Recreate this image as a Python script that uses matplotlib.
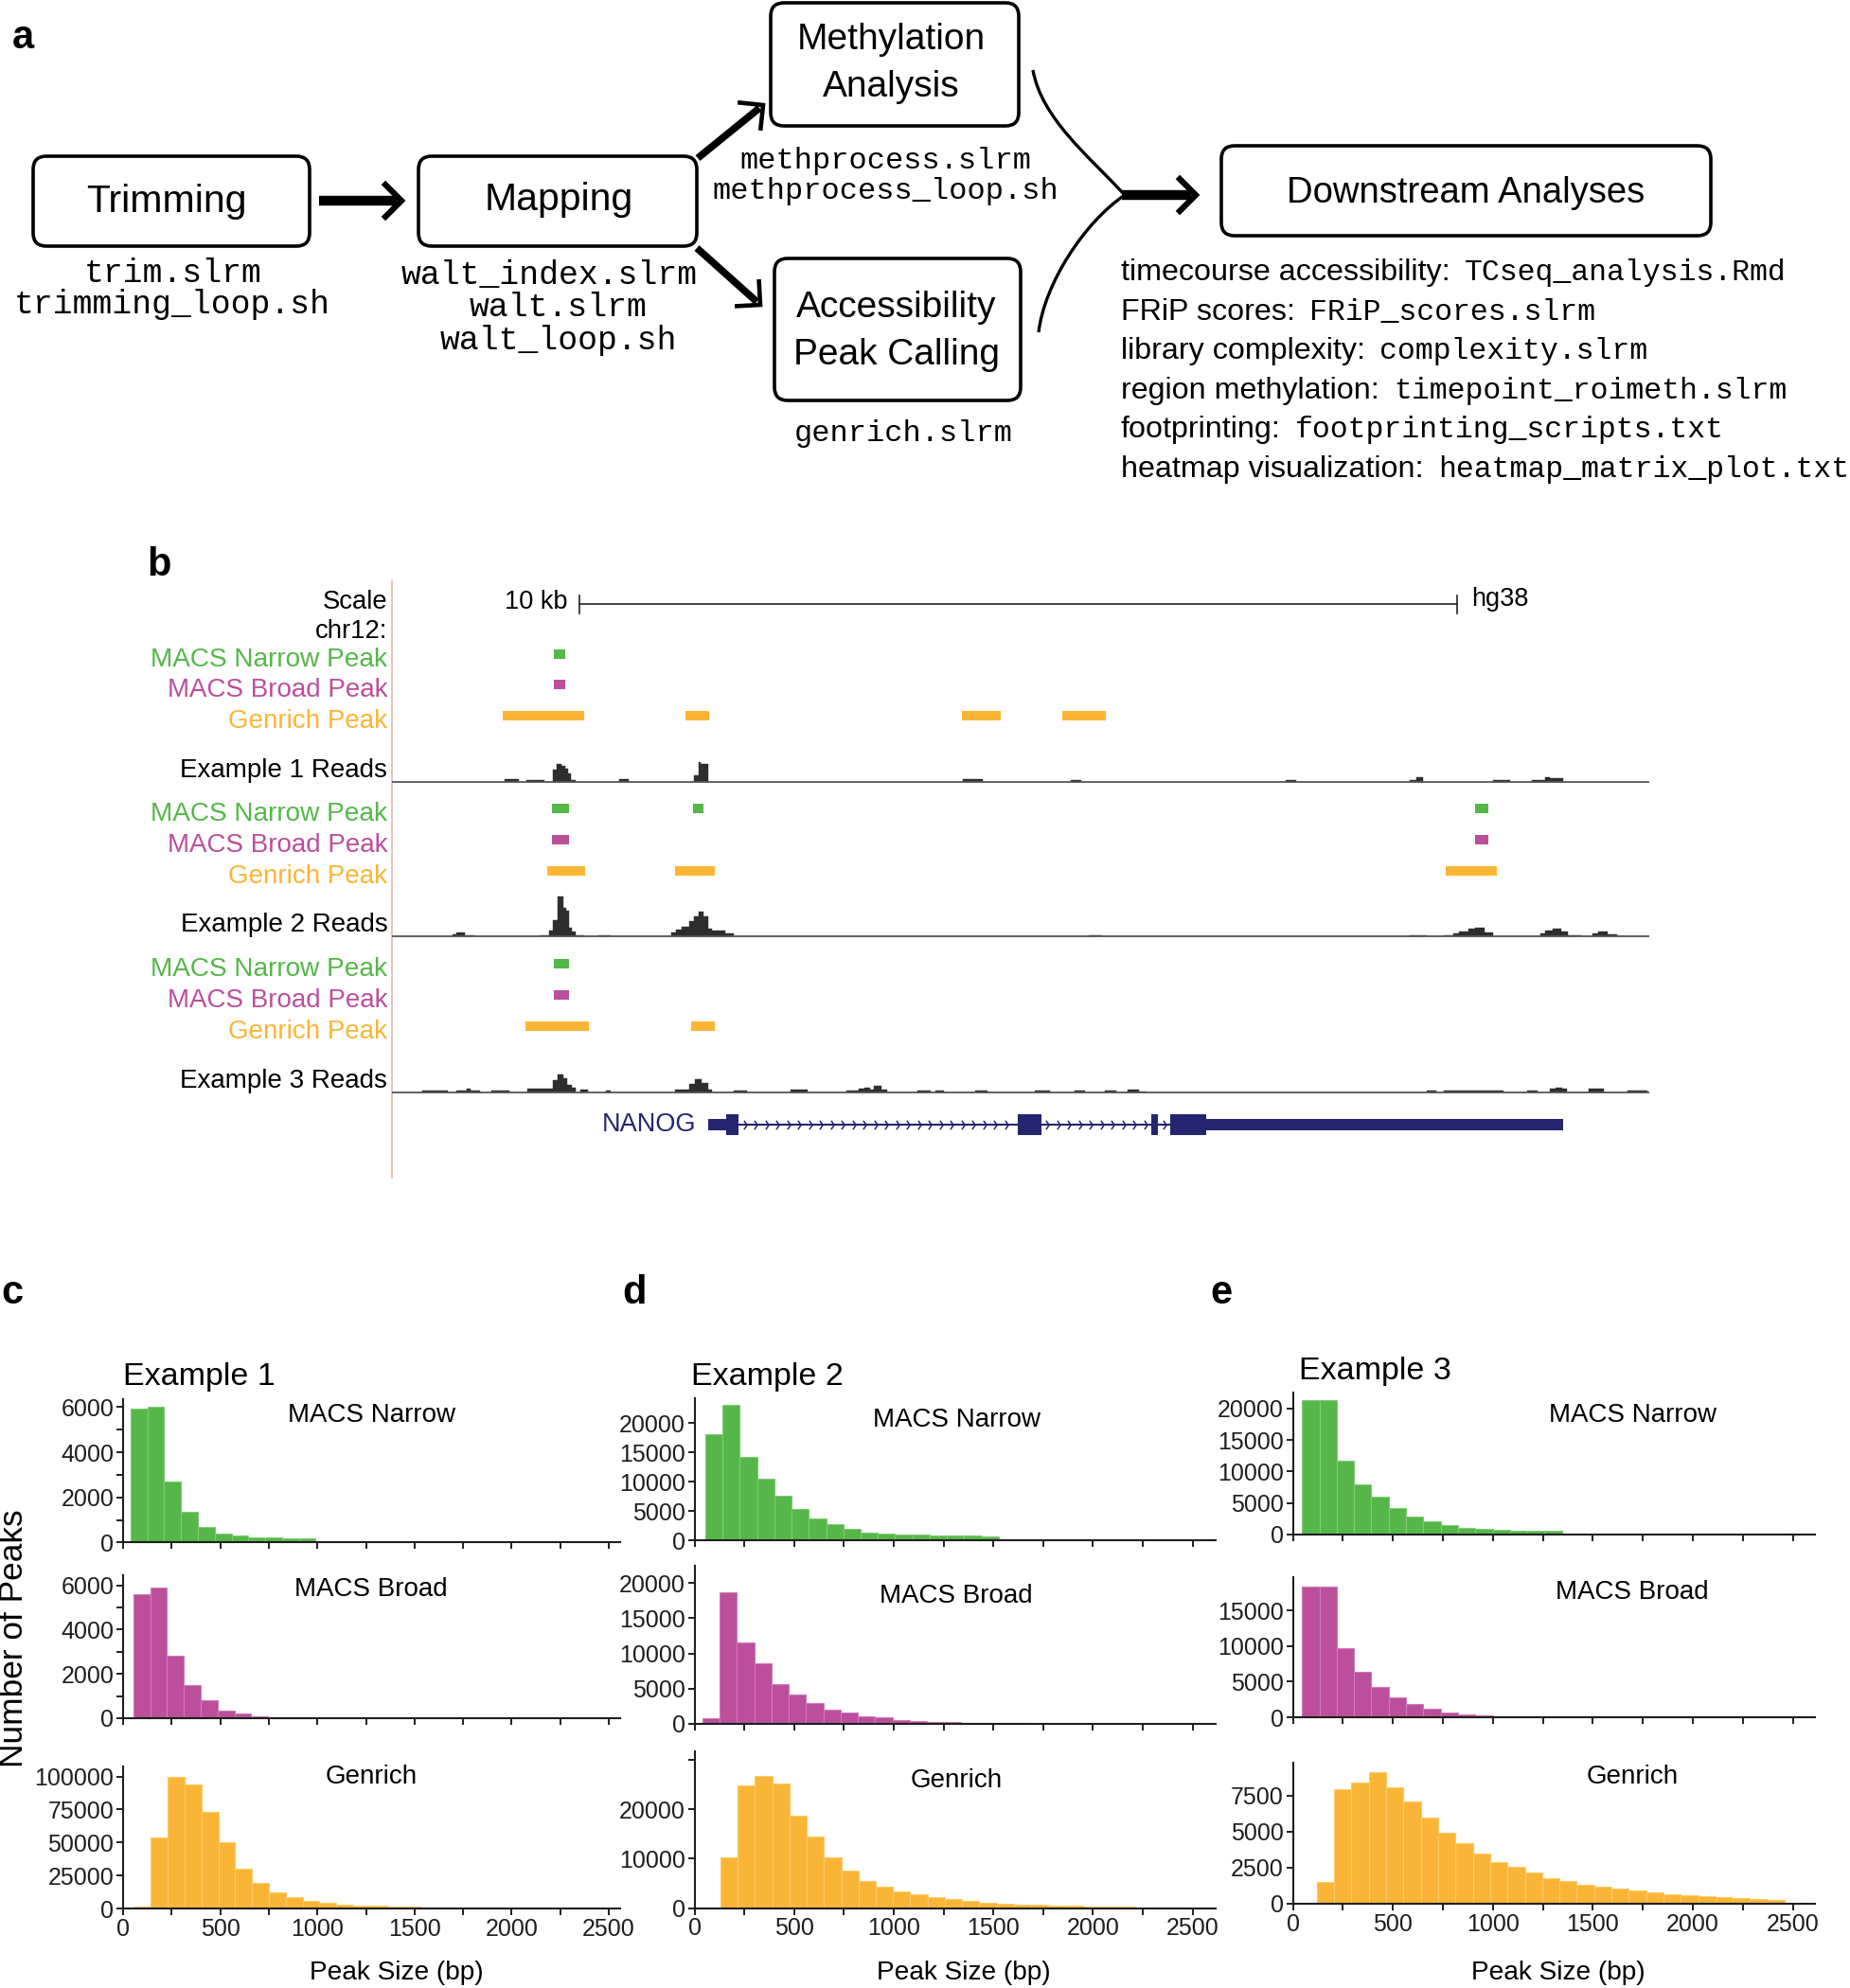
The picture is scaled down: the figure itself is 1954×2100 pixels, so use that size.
import numpy as np
import matplotlib
matplotlib.use('Agg')
import matplotlib.pyplot as plt
from matplotlib.patches import FancyBboxPatch, PathPatch
from matplotlib.path import Path

# ==== data =====================================================================

# --- panels c-e: peak size histograms (bin width ~86.7 bp, first bin start in bp)
bin_w = 2600 / 30
ex1_narrow_start = 38
ex1_narrow = [5950, 6030, 2690, 1360, 690, 390, 300, 230, 220, 200, 200]
ex1_broad_start = 53
ex1_broad = [5590, 5900, 2830, 1490, 830, 350, 200, 100, 60, 35, 25, 18, 12, 10,
             8, 6, 5, 5, 4, 4, 3, 3, 3, 3, 2, 2, 2]
ex1_genrich_start = 57
ex1_genrich = [1500, 54000, 100000, 94000, 73000, 50000, 30000, 19500, 12500, 8700,
               6000, 4300, 3200, 2500, 1900, 1500, 1200, 1000, 800, 650, 500, 400,
               320, 260, 200, 160, 130]

ex2_narrow_start = 54
ex2_narrow = [18100, 23100, 14300, 10600, 7650, 5400, 3850, 2750, 2050, 1400, 1250,
              1100, 1000, 940, 860, 860, 780]
ex2_broad_start = 40
ex2_broad = [850, 18700, 11500, 8600, 5700, 4150, 3000, 2080, 1550, 1100, 900, 600,
             460, 330, 260, 200, 150, 110, 80, 60, 45, 35, 25, 20, 15, 10, 8]
ex2_genrich_start = 130
ex2_genrich = [10300, 24800, 26700, 25300, 18700, 14400, 10200, 7600, 5500, 4300,
               3300, 2800, 2150, 1800, 1400, 1120, 930, 750, 650, 560, 470, 370,
               280, 280, 190, 190, 100]

ex3_narrow_start = 46
ex3_narrow = [21400, 21300, 11650, 7950, 5950, 4200, 2900, 2050, 1450, 1020, 870,
              730, 650, 580, 580]
ex3_broad_start = 46
ex3_broad = [18350, 18400, 9700, 6450, 4250, 2750, 1800, 1150, 700, 450, 260, 130,
             80, 60, 40, 30, 20, 15, 10, 8, 6, 5]
ex3_genrich_start = 120
ex3_genrich = [1500, 7900, 8400, 9100, 8050, 7050, 5950, 4900, 4200, 3450, 2900,
               2550, 2150, 1800, 1600, 1300, 1180, 1050, 920, 760, 670, 570, 510,
               450, 410, 350, 290]

# --- panel b: browser tracks, positions in kb from left edge of the window
ex1_narrow_pk = [(1.85, 1.97)]
ex1_broad_pk = [(1.85, 1.97)]
ex1_genrich_pk = [(1.26, 2.19), (3.34, 3.61), (6.49, 6.94), (7.64, 8.13)]
ex2_narrow_pk = [(1.82, 2.02), (3.43, 3.55), (12.34, 12.49)]
ex2_broad_pk = [(1.82, 2.02), (12.34, 12.49)]
ex2_genrich_pk = [(1.77, 2.20), (3.23, 3.68), (12.01, 12.59)]
ex3_narrow_pk = [(1.84, 2.02)]
ex3_broad_pk = [(1.84, 2.02)]
ex3_genrich_pk = [(1.52, 2.24), (3.41, 3.68)]

# read coverage: (start kb, end kb, height)
ex1_reads = [(1.28, 1.45, 3), (1.53, 1.74, 1.3), (1.83, 1.88, 13), (1.88, 1.93, 19),
             (1.93, 1.97, 17), (1.97, 2.01, 14), (2.01, 2.04, 9), (2.04, 2.09, 2),
             (2.59, 2.70, 3), (3.44, 3.50, 7), (3.50, 3.52, 21), (3.52, 3.60, 19),
             (6.50, 6.73, 3), (7.73, 7.85, 1.5), (10.18, 10.30, 1.7),
             (11.60, 11.67, 1.7), (11.67, 11.75, 4.3), (12.55, 12.74, 1.7),
             (12.99, 13.14, 1.7), (13.14, 13.19, 4.7), (13.19, 13.34, 3.3)]
ex2_reads = [(0.69, 0.73, 2.7), (0.73, 0.83, 4.7), (0.83, 0.94, 1.3),
             (1.68, 1.79, 1.3), (1.79, 1.83, 6), (1.83, 1.89, 17), (1.89, 1.95, 42),
             (1.95, 1.98, 30), (1.98, 2.02, 27), (2.02, 2.05, 9), (2.05, 2.09, 5),
             (2.09, 2.19, 1.3), (2.35, 2.49, 1.3),
             (3.18, 3.24, 4.3), (3.24, 3.30, 7.7), (3.30, 3.39, 10), (3.39, 3.44, 16),
             (3.44, 3.50, 21), (3.50, 3.55, 26), (3.55, 3.60, 21), (3.60, 3.65, 8.7),
             (3.65, 3.80, 6.7), (3.80, 3.89, 3),
             (7.94, 8.09, 1.3), (11.60, 11.79, 1.7),
             (11.98, 12.09, 1.7), (12.09, 12.16, 3.3), (12.16, 12.27, 5.7),
             (12.27, 12.34, 8.3), (12.34, 12.45, 9.3), (12.45, 12.55, 4),
             (13.09, 13.14, 3.3), (13.14, 13.23, 6.7), (13.23, 13.32, 8),
             (13.32, 13.40, 5), (13.40, 13.55, 1.3),
             (13.68, 13.74, 3.3), (13.74, 13.85, 5.3), (13.85, 13.96, 2.7)]
ex3_reads = [(0.35, 0.64, 1.3), (0.73, 0.85, 1.7), (0.85, 0.90, 4), (0.90, 1.00, 1.7),
             (1.13, 1.34, 1.3), (1.54, 1.83, 3.3), (1.83, 1.89, 13), (1.89, 1.95, 19),
             (1.95, 2.00, 15), (2.00, 2.05, 8), (2.05, 2.09, 4.7), (2.15, 2.23, 2.7),
             (2.44, 2.49, 2),
             (3.23, 3.39, 2.7), (3.39, 3.45, 8.3), (3.45, 3.53, 13.3), (3.53, 3.60, 10),
             (3.60, 3.65, 2.7), (3.89, 4.05, 1.3), (4.54, 4.74, 2.7),
             (5.18, 5.32, 1.7), (5.32, 5.38, 3.3), (5.38, 5.45, 5), (5.45, 5.49, 2.7),
             (5.49, 5.58, 6.7), (5.58, 5.64, 2.7), (5.99, 6.14, 1.7), (6.19, 6.29, 1.7),
             (6.65, 6.79, 1.7), (7.33, 7.50, 1.3), (7.78, 7.90, 1.3), (8.12, 8.25, 1.3),
             (8.38, 8.51, 2.7), (8.51, 8.60, 1), (11.79, 11.90, 1.3),
             (11.98, 12.66, 1.7), (12.93, 13.05, 1.3), (13.19, 13.26, 3.3),
             (13.26, 13.33, 4.7), (13.33, 13.39, 3.3), (13.64, 13.81, 4),
             (14.08, 14.30, 1.7)]

# NANOG gene model (kb)
nanog_utr = [(3.60, 3.81), (9.28, 13.34)]
nanog_cds = [(3.81, 3.95), (7.13, 7.40), (8.65, 8.73), (8.87, 9.28)]
nanog_span = (3.95, 8.87)
scale_start_kb, scale_len_kb = 2.14, 10

downstream = [('timecourse accessibility:', 'TCseq_analysis.Rmd'),
              ('FRiP scores:', 'FRiP_scores.slrm'),
              ('library complexity:', 'complexity.slrm'),
              ('region methylation:', 'timepoint_roimeth.slrm'),
              ('footprinting:', 'footprinting_scripts.txt'),
              ('heatmap visualization:', 'heatmap_matrix_plot.txt')]

# ==== styling ==================================================================
GREEN, PURPLE, ORANGE = '#55b748', '#bb4f9c', '#fbb536'
GREEN_E, PURPLE_E, ORANGE_E = '#80cb76', '#cf7bb8', '#fcca6a'
NAVY = '#25256f'
MONO = 'Liberation Mono'

W, H = 1954, 2100
plt.rcParams['font.family'] = ['Liberation Sans', 'DejaVu Sans']
fig = plt.figure(figsize=(W / 100, H / 100), dpi=100)

# background axes in pixel coordinates (panel a + labels)
ax = fig.add_axes([0, 0, 1, 1])
ax.set_xlim(0, W)
ax.set_ylim(H, 0)
ax.axis('off')

# ---- panel a: workflow ---------------------------------------------------------
boxes = [(35, 165, 327, 260), (442, 165, 736, 260), (814, 3, 1076, 133),
         (818, 273, 1078, 423), (1290, 154, 1807, 249)]
for x0, y0, x1, y1 in boxes:
    ax.add_patch(FancyBboxPatch((x0, y0), x1 - x0, y1 - y0,
                                boxstyle='round,pad=0,rounding_size=14',
                                lw=2.6, ec='black', fc='none'))


def arrow(x0, y0, x1, y1, lw, head=27):
    ang = np.arctan2(y1 - y0, x1 - x0)
    ax.plot([x0, x1 - 5 * np.cos(ang)], [y0, y1 - 5 * np.sin(ang)],
            color='black', lw=lw, solid_capstyle='butt')
    a1, a2 = ang + np.pi + np.radians(45), ang + np.pi - np.radians(45)
    ax.plot([x1 + head * np.cos(a1), x1, x1 + head * np.cos(a2)],
            [y1 + head * np.sin(a1), y1, y1 + head * np.sin(a2)],
            color='black', lw=lw * 0.6, solid_joinstyle='miter',
            solid_capstyle='butt')


arrow(337, 212, 424, 212, 7.5)
arrow(737, 167, 806, 111, 5.5)
arrow(736, 262, 803, 322, 5.5)
arrow(1185, 206, 1263, 206, 7.5)

for verts in ([(1091, 74), (1100, 125), (1150, 165), (1188, 206)],
              [(1097, 351), (1103, 300), (1145, 235), (1188, 206)]):
    ax.add_patch(PathPatch(Path(verts, [Path.MOVETO, Path.CURVE4, Path.CURVE4, Path.CURVE4]),
                           fc='none', ec='black', lw=2.4))

ax.text(176, 213, 'Trimming', fontsize=29.5, ha='center', va='center')
ax.text(590, 211, 'Mapping', fontsize=29.5, ha='center', va='center')
ax.text(941, 42, 'Methylation', fontsize=28, ha='center', va='center')
ax.text(941, 92, 'Analysis', fontsize=28, ha='center', va='center')
ax.text(947, 325, 'Accessibility', fontsize=28, ha='center', va='center')
ax.text(947, 375, 'Peak Calling', fontsize=28, ha='center', va='center')
ax.text(1548, 204, 'Downstream Analyses', fontsize=27.5, ha='center', va='center')

ax.text(183, 288, 'trim.slrm', family=MONO, fontsize=25, ha='center', va='center')
ax.text(182, 321, 'trimming_loop.sh', family=MONO, fontsize=25, ha='center', va='center')
ax.text(580, 290, 'walt_index.slrm', family=MONO, fontsize=25, ha='center', va='center')
ax.text(590, 325, 'walt.slrm', family=MONO, fontsize=25, ha='center', va='center')
ax.text(590, 359, 'walt_loop.sh', family=MONO, fontsize=25, ha='center', va='center')
ax.text(935, 170, 'methprocess.slrm', family=MONO, fontsize=23, ha='center', va='center')
ax.text(935, 202, 'methprocess_loop.sh', family=MONO, fontsize=23, ha='center', va='center')
ax.text(954, 458, 'genrich.slrm', family=MONO, fontsize=23, ha='center', va='center')

renderer = fig.canvas.get_renderer()
for i, (lab, fname) in enumerate(downstream):
    y = 288 + i * 41.6
    t = ax.text(1184, y, lab, fontsize=23.2, ha='left', va='center')
    x_end = t.get_window_extent(renderer).x1
    ax.text(x_end + 15, y, fname, family=MONO, fontsize=22.7, ha='left', va='center')

# panel letters
for lab, x, y in [('a', 24, 40), ('b', 168, 597), ('c', 13, 1366),
                  ('d', 670, 1366), ('e', 1290, 1366)]:
    ax.text(x, y, lab, fontsize=30, fontweight='bold', ha='center', va='center')

# ---- panel b: genome browser ----------------------------------------------------
bx0, bx1, by0, by1 = 414, 1742, 614, 1244
kb_px = 92.7
axb = fig.add_axes([bx0 / W, 1 - by1 / H, (bx1 - bx0) / W, (by1 - by0) / H])
axb.set_xlim(0, (bx1 - bx0) / kb_px)
axb.set_ylim(by1, by0)
axb.axis('off')
axb.patch.set_alpha(0)
axb.plot([0, 0], [by0, by1], color='#f4b3b3', lw=1.2, clip_on=False)

lab_x = -0.05
axb.text(lab_x, 636, 'Scale', fontsize=19.8, ha='right', va='center')
axb.text(lab_x, 667, 'chr12:', fontsize=19.8, ha='right', va='center')
axb.plot([scale_start_kb, scale_start_kb + scale_len_kb], [638, 638], color='#222', lw=1.2)
for xk in (scale_start_kb, scale_start_kb + scale_len_kb):
    axb.plot([xk, xk], [629, 648], color='#222', lw=1.2)
axb.text(scale_start_kb - 0.14, 636, '10 kb', fontsize=19.5, ha='right', va='center')
axb.text(scale_start_kb + scale_len_kb + 0.16, 633, 'hg38', fontsize=19.5, ha='left', va='center')

tracks = [
    ('Example 1 Reads', ex1_narrow_pk, ex1_broad_pk, ex1_genrich_pk, ex1_reads, (690.6, 723, 755.6, 825.7)),
    ('Example 2 Reads', ex2_narrow_pk, ex2_broad_pk, ex2_genrich_pk, ex2_reads, (854.3, 887.3, 920, 989.3)),
    ('Example 3 Reads', ex3_narrow_pk, ex3_broad_pk, ex3_genrich_pk, ex3_reads, (1018.3, 1051, 1084, 1153.7)),
]
for name, nar, brd, gen, reads, (yn, yb, yg, ybase) in tracks:
    for pks, y, col, lab, fs in ((nar, yn, GREEN, 'MACS Narrow Peak', 20.2),
                                 (brd, yb, PURPLE, 'MACS Broad Peak', 20),
                                 (gen, yg, ORANGE, 'Genrich Peak', 20)):
        axb.barh([y] * len(pks), [e - s for s, e in pks], left=[s for s, e in pks],
                 height=10, color=col, lw=0)
        axb.text(lab_x, y + 6, lab, fontsize=fs, color=col, ha='right', va='center')
    axb.text(lab_x, ybase - 12, name, fontsize=20, ha='right', va='center')
    axb.plot([0, (bx1 - bx0) / kb_px], [ybase, ybase], color='#555555', lw=1.3)
    axb.bar([s for s, e, h in reads], [-h for s, e, h in reads],
            width=[e - s for s, e, h in reads], bottom=ybase, align='edge',
            color='#2e2e2e', ec='#2e2e2e', lw=0.3)

# NANOG gene model
gy = 1188
axb.plot(nanog_span, [gy, gy], color=NAVY, lw=1.5)
axb.barh([gy] * len(nanog_utr), [e - s for s, e in nanog_utr],
         left=[s for s, e in nanog_utr], height=12.5, color=NAVY, lw=0)
axb.barh([gy] * len(nanog_cds), [e - s for s, e in nanog_cds],
         left=[s for s, e in nanog_cds], height=22, color=NAVY, lw=0)
chev = Path([(-0.35, 1), (0.35, 0), (-0.35, -1)], [Path.MOVETO, Path.LINETO, Path.LINETO])
for a, b in ((3.95, 7.13), (7.40, 8.65), (8.73, 8.87)):
    xs = np.arange(a + 0.07, b - 0.03, 0.124)
    axb.plot(xs, [gy] * len(xs), ls='none', marker=chev, ms=6.7, mfc='none',
             mec=NAVY, mew=1.1)
axb.text(3.47, gy, 'NANOG', fontsize=19.5, color=NAVY, ha='right', va='center')

# ---- panels c-e: histograms -----------------------------------------------------
columns = [
    # left px, right px, xmax, example title (x, y), x centre of texts, x-label centre
    (130, 655, 2558, ('Example 1', 130, 1455), 392, 419, [
        (1478, 1629.4, 6350, ex1_narrow_start, ex1_narrow, GREEN, GREEN_E,
         [0, 1000, 2000, 3000, 4000, 5000, 6000], ['0', '', '2000', '', '4000', '', '6000'], 'MACS Narrow', 1495),
        (1664, 1815, 6450, ex1_broad_start, ex1_broad, PURPLE, PURPLE_E,
         [0, 1000, 2000, 3000, 4000, 5000, 6000], ['0', '', '2000', '', '4000', '', '6000'], 'MACS Broad', 1679),
        (1866, 2016, 107600, ex1_genrich_start, ex1_genrich, ORANGE, ORANGE_E,
         [0, 25000, 50000, 75000, 100000], ['0', '25000', '50000', '75000', '100000'], 'Genrich', 1877)]),
    (733.5, 1284, 2616, ('Example 2', 730, 1455), 1010, 1018, [
        (1477, 1627.4, 24260, ex2_narrow_start, ex2_narrow, GREEN, GREEN_E,
         [0, 5000, 10000, 15000, 20000], ['0', '5000', '10000', '15000', '20000'], 'MACS Narrow', 1500),
        (1654, 1821, 22420, ex2_broad_start, ex2_broad, PURPLE, PURPLE_E,
         [0, 5000, 10000, 15000, 20000], ['0', '5000', '10000', '15000', '20000'], 'MACS Broad', 1686),
        (1850, 2015.5, 31740, ex2_genrich_start, ex2_genrich, ORANGE, ORANGE_E,
         [0, 10000, 20000, 30000], ['0', '10000', '20000', ''], 'Genrich', 1881)]),
    (1365.5, 1917, 2611, ('Example 3', 1372, 1448), 1724, 1646, [
        (1471, 1621, 22540, ex3_narrow_start, ex3_narrow, GREEN, GREEN_E,
         [0, 5000, 10000, 15000, 20000], ['0', '5000', '10000', '15000', '20000'], 'MACS Narrow', 1495),
        (1666, 1814, 19700, ex3_broad_start, ex3_broad, PURPLE, PURPLE_E,
         [0, 5000, 10000, 15000], ['0', '5000', '10000', '15000'], 'MACS Broad', 1682),
        (1862, 2011, 9760, ex3_genrich_start, ex3_genrich, ORANGE, ORANGE_E,
         [0, 2500, 5000, 7500], ['0', '2500', '5000', '7500'], 'Genrich', 1877)]),
]

xticks = np.arange(0, 2501, 250)
for left, right, xmax, (title, tx, ty), name_x, xlab_x, rows in columns:
    ax.text(tx, ty, title, fontsize=24.5, ha='left', va='center')
    for r, (top, bot, ymax, start, counts, col, ecol, yt, ytl, name, name_y) in enumerate(rows):
        h_ax = fig.add_axes([left / W, 1 - bot / H, (right - left) / W, (bot - top) / H])
        h_ax.patch.set_alpha(0)
        lefts = start + bin_w * np.arange(len(counts))
        h_ax.bar(lefts, counts, width=bin_w, align='edge', color=col, ec=ecol, lw=0.8)
        h_ax.set_xlim(0, xmax)
        h_ax.set_ylim(0, ymax)
        for s in ('top', 'right'):
            h_ax.spines[s].set_visible(False)
        for s in ('left', 'bottom'):
            h_ax.spines[s].set_linewidth(1.5)
            h_ax.spines[s].set_color('#1e1e1e')
        h_ax.set_yticks(yt)
        h_ax.set_yticklabels(ytl)
        h_ax.set_xticks(xticks)
        if r == 2:
            h_ax.set_xticklabels([str(v) if v % 500 == 0 else '' for v in xticks])
        else:
            h_ax.set_xticklabels([])
        h_ax.tick_params(direction='out', length=5, width=1.4, labelsize=18,
                         color='#1e1e1e', labelcolor='#1e1e1e')
        h_ax.tick_params(axis='y', pad=2)
        h_ax.tick_params(axis='x', pad=2)
        ax.text(name_x, name_y, name, fontsize=20, ha='center', va='center')
    ax.text(xlab_x, 2084, 'Peak Size (bp)', fontsize=20.2, ha='center', va='center')

ax.text(15, 1731, 'Number of Peaks', fontsize=25.4, rotation=90, ha='center', va='center')

fig.savefig('out.png', dpi=100)
